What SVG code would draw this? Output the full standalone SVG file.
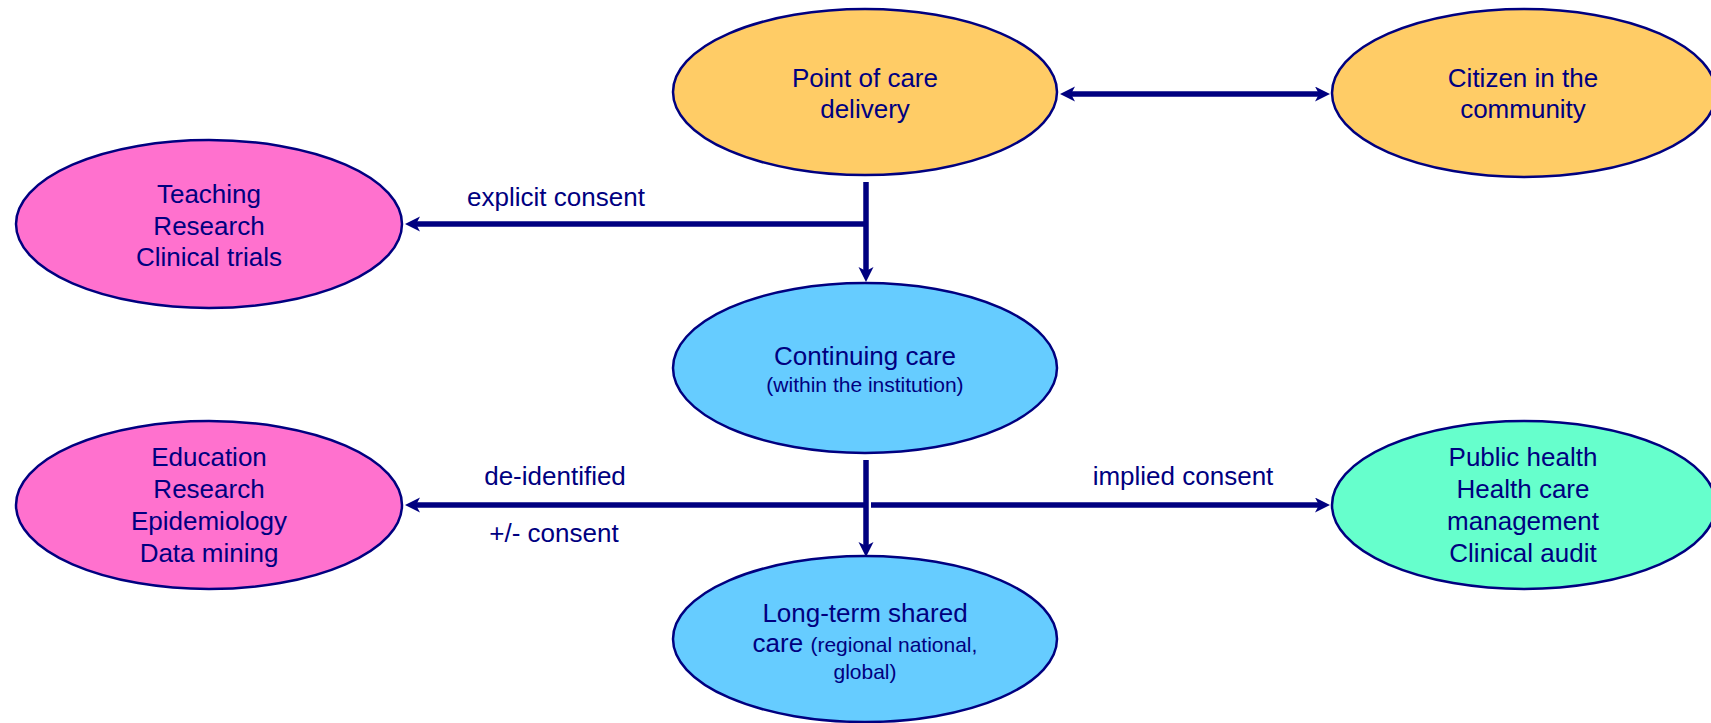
<svg xmlns="http://www.w3.org/2000/svg" width="1711" height="723" viewBox="0 0 1711 723">
  <style>
    .node { stroke: #000080; stroke-width: 2.5; }
    .care { fill: #FFCC66; }
    .use2 { fill: #FF71CE; }
    .inst { fill: #66CCFF; }
    .pub { fill: #66FFCC; }
    text { font-family: "Liberation Sans", Arial, sans-serif; fill: #000080; text-anchor: middle; }
    .t { font-size: 26px; }
    .s { font-size: 21px; }
    .link { stroke: #000080; stroke-width: 5.5; fill: none; }
  </style>
  <defs>
    <marker id="arrow" markerUnits="userSpaceOnUse" markerWidth="16" markerHeight="16" viewBox="0 0 16 16" refX="5" refY="7.5" orient="auto-start-reverse">
      <path d="M15,7.5 L0,0 L4,7.5 L0,15 Z" fill="#000080"/>
    </marker>
  </defs>

  <rect width="1711" height="723" fill="#FFFFFF"/>

  <!-- connectors -->
  <g id="connectors">
    <line class="link" x1="1070" y1="94" x2="1320" y2="94" marker-start="url(#arrow)" marker-end="url(#arrow)"/>
    <line class="link" x1="866" y1="224" x2="415" y2="224" marker-end="url(#arrow)"/>
    <line class="link" x1="866" y1="182" x2="866" y2="272" marker-end="url(#arrow)"/>
    <line class="link" x1="866" y1="505" x2="415" y2="505" marker-end="url(#arrow)"/>
    <line class="link" x1="871" y1="505" x2="1320" y2="505" marker-end="url(#arrow)"/>
    <line class="link" x1="866" y1="460" x2="866" y2="547" marker-end="url(#arrow)"/>
    <text class="t" x="556" y="206">explicit consent</text>
    <text class="t" x="555" y="485">de-identified</text>
    <text class="t" x="554" y="542">+/- consent</text>
    <text class="t" x="1183" y="485">implied consent</text>
  </g>

  <g id="point-of-care">
    <ellipse class="node care" cx="865" cy="92" rx="192" ry="83"/>
    <text class="t" x="865" y="87">Point of care</text>
    <text class="t" x="865" y="118">delivery</text>
  </g>

  <g id="citizen">
    <ellipse class="node care" cx="1524" cy="93" rx="192" ry="84"/>
    <text class="t" x="1523" y="87">Citizen in the</text>
    <text class="t" x="1523" y="118">community</text>
  </g>

  <g id="teaching">
    <ellipse class="node use2" cx="209" cy="224" rx="193" ry="84"/>
    <text class="t" x="209" y="203">Teaching</text>
    <text class="t" x="209" y="235">Research</text>
    <text class="t" x="209" y="266">Clinical trials</text>
  </g>

  <g id="continuing-care">
    <ellipse class="node inst" cx="865" cy="368" rx="192" ry="85"/>
    <text class="t" x="865" y="365">Continuing care</text>
    <text class="s" x="865" y="392">(within the institution)</text>
  </g>

  <g id="education">
    <ellipse class="node use2" cx="209" cy="505" rx="193" ry="84"/>
    <text class="t" x="209" y="466">Education</text>
    <text class="t" x="209" y="498">Research</text>
    <text class="t" x="209" y="530">Epidemiology</text>
    <text class="t" x="209" y="562">Data mining</text>
  </g>

  <g id="public-health">
    <ellipse class="node pub" cx="1524" cy="505" rx="192" ry="84"/>
    <text class="t" x="1523" y="466">Public health</text>
    <text class="t" x="1523" y="498">Health care</text>
    <text class="t" x="1523" y="530">management</text>
    <text class="t" x="1523" y="562">Clinical audit</text>
  </g>

  <g id="long-term-care">
    <ellipse class="node inst" cx="865" cy="639" rx="192" ry="83"/>
    <text class="t" x="865" y="622">Long-term shared</text>
    <text x="865" y="652"><tspan class="t">care </tspan><tspan class="s">(regional national,</tspan></text>
    <text class="s" x="865" y="679">global)</text>
  </g>
</svg>
